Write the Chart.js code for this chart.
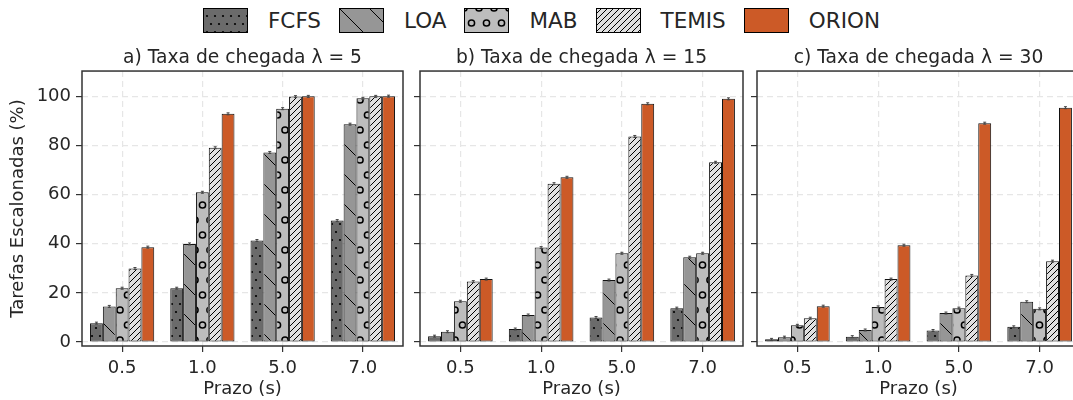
<!DOCTYPE html>
<html>
<head>
<meta charset="utf-8">
<script src="https://cdn.jsdelivr.net/npm/chart.js@4.4.0/dist/chart.umd.min.js"></script>
<style>
  body { margin: 0; width: 1073px; height: 400px; overflow: hidden; background: #fff; position: relative; font-family: 'DejaVu Sans', sans-serif; color: #262626; }
  #legend { position: absolute; top: 8px; left: 0; width: 1073px; height: 25px; display: flex; justify-content: center; align-items: center; padding-left: 10px; box-sizing: border-box; }
  .item { display: flex; align-items: center; margin-right: 18px; }
  .item:last-child { margin-right: 0; }
  .item canvas { margin-right: 20px; }
  .item span { font-size: 21.5px; line-height: 25px; }
  canvas.panel { position: absolute; top: 40px; }
</style>
</head>
<body>
<div id="legend"></div>
<canvas id="chartA" class="panel" width="410" height="360" style="left:0px"></canvas>
<canvas id="chartB" class="panel" width="340" height="360" style="left:410px"></canvas>
<canvas id="chartC" class="panel" width="333" height="360" style="left:747px"></canvas>
<script>
// deadlines (x categories) and methods
const deadlines = ['0.5', '1.0', '5.0', '7.0'];
const methods = ['FCFS', 'LOA', 'MAB', 'TEMIS', 'ORION'];

// arrival rate lambda = 5
const fcfs5  = [7.7, 21.9, 41.3, 49.4];
const loa5   = [14.5, 39.9, 77.1, 88.6];
const mab5   = [21.9, 60.9, 94.9, 99.1];
const temis5 = [29.9, 79.0, 99.8, 99.9];
const orion5 = [38.6, 92.8, 99.9, 100];

// arrival rate lambda = 15
const fcfs15  = [2.4, 5.3, 10.0, 13.8];
const loa15   = [4.2, 11.0, 25.2, 34.5];
const mab15   = [16.6, 38.4, 36.1, 36.1];
const temis15 = [24.6, 64.4, 83.6, 73.1];
const orion15 = [25.6, 67.0, 96.9, 98.9];

// arrival rate lambda = 30
const fcfs30  = [1.1, 2.2, 4.7, 6.2];
const loa30   = [2.0, 4.9, 11.8, 16.4];
const mab30   = [6.8, 14.3, 13.8, 13.5];
const temis30 = [9.7, 25.6, 27.1, 32.9];
const orion30 = [14.6, 39.4, 89.0, 95.3];

const yTicks = [0, 20, 40, 60, 80, 100];
const ERR = 0.4; // tiny error bars on top of each bar

const fills = ['#6b6b6b', '#969696', '#bdbdbd', '#e0e0e0', '#cc5a27'];
const hatches = ['dots', 'back', 'circles', 'fwd', 'none'];

const textColor = '#262626';
const frameColor = '#333333';
const gridColor = '#e6e6e6';
const FONT = "'DejaVu Sans', sans-serif";

// build hatch patterns like matplotlib's
function makeTile(kind, bg) {
    const c = document.createElement('canvas');
    let w = 8, h = 8;
    if (kind === 'dots') { w = 8; h = 16; }
    if (kind === 'circles') { w = 15; h = 30; }
    if (kind === 'back') { w = 30; h = 30; }
    if (kind === 'fwd') { w = 6; h = 6; }
    c.width = w; c.height = h;
    const g = c.getContext('2d');
    g.fillStyle = bg;
    g.fillRect(0, 0, w, h);
    g.strokeStyle = '#000';
    g.fillStyle = '#000';
    if (kind === 'dots') {
        const pts = [[0, 0], [w, 0], [0, h], [w, h], [w / 2, h / 2]];
        pts.forEach(p => { g.beginPath(); g.arc(p[0], p[1], 1.1, 0, Math.PI * 2); g.fill(); });
    } else if (kind === 'circles') {
        g.lineWidth = 1.5;
        const pts = [[0, 0], [w, 0], [0, h], [w, h], [w / 2, h / 2]];
        pts.forEach(p => { g.beginPath(); g.arc(p[0], p[1], 3.1, 0, Math.PI * 2); g.stroke(); });
    } else if (kind === 'back') {
        g.lineWidth = 1;
        g.beginPath();
        g.moveTo(-1, -1); g.lineTo(w + 1, h + 1);
        g.stroke();
    } else if (kind === 'fwd') {
        g.lineWidth = 1;
        g.beginPath();
        g.moveTo(-1, h + 1); g.lineTo(w + 1, -1);
        g.moveTo(-1, 1); g.lineTo(1, -1);
        g.moveTo(w - 1, h + 1); g.lineTo(w + 1, h - 1);
        g.stroke();
    }
    return c;
}

function makeFill(ctx, i) {
    if (hatches[i] === 'none') return fills[i];
    return ctx.createPattern(makeTile(hatches[i], fills[i]), 'repeat');
}

// legend
const legend = document.getElementById('legend');
methods.forEach((m, i) => {
    const item = document.createElement('div');
    item.className = 'item';
    const sw = document.createElement('canvas');
    sw.width = 45; sw.height = 25;
    const g = sw.getContext('2d');
    g.fillStyle = makeFill(g, i);
    g.fillRect(0, 0, 45, 25);
    g.strokeStyle = '#000';
    g.lineWidth = 1;
    g.strokeRect(0.5, 0.5, 44, 24);
    const label = document.createElement('span');
    label.textContent = m;
    item.appendChild(sw);
    item.appendChild(label);
    legend.appendChild(item);
});

const framePlugin = {
    id: 'frame',
    afterDatasetsDraw(chart) {
        const ctx = chart.ctx;
        const a = chart.chartArea;
        const y = chart.scales.y;
        // error bars
        ctx.save();
        ctx.strokeStyle = '#444';
        ctx.lineWidth = 1;
        chart.data.datasets.forEach((ds, di) => {
            const meta = chart.getDatasetMeta(di);
            meta.data.forEach((bar, j) => {
                const v = ds.data[j];
                const y1 = y.getPixelForValue(Math.min(v + ERR, 110));
                const y2 = y.getPixelForValue(v - ERR);
                ctx.beginPath();
                ctx.moveTo(bar.x, y1); ctx.lineTo(bar.x, y2);
                ctx.moveTo(bar.x - 1.5, y1); ctx.lineTo(bar.x + 1.5, y1);
                ctx.moveTo(bar.x - 1.5, y2); ctx.lineTo(bar.x + 1.5, y2);
                ctx.stroke();
            });
        });
        ctx.restore();
        // box around plot
        ctx.save();
        ctx.strokeStyle = frameColor;
        ctx.lineWidth = 1.5;
        ctx.strokeRect(a.left, a.top, a.right - a.left, a.bottom - a.top);
        ctx.restore();
    }
};

function makePanel(id, title, series, showY, padRight) {
    const ctx = document.getElementById(id).getContext('2d');
    const datasets = methods.map((m, i) => ({
        label: m,
        data: series[i],
        backgroundColor: makeFill(ctx, i),
        borderColor: '#111',
        borderWidth: 1,
        borderSkipped: false,
        categoryPercentage: 0.8,
        barPercentage: 1.0
    }));
    const gridOpts = {
        color: gridColor,
        lineWidth: 1.2,
        tickLength: 6,
        tickColor: frameColor,
        tickWidth: 1.2,
        tickBorderDash: []
    };
    return new Chart(ctx, {
        type: 'bar',
        data: { labels: deadlines, datasets: datasets },
        options: {
            responsive: false,
            animation: false,
            devicePixelRatio: 1,
            layout: { padding: { left: 0, right: padRight, top: 0, bottom: 0 } },
            plugins: {
                legend: { display: false },
                tooltip: { enabled: false },
                title: {
                    display: true,
                    text: title,
                    fullSize: false,
                    color: textColor,
                    font: { family: FONT, size: 18.7, weight: 'normal' },
                    padding: { top: 7, bottom: 1.6 }
                }
            },
            scales: {
                x: {
                    offset: true,
                    grid: Object.assign({ offset: false }, gridOpts),
                    border: { display: false, dash: [6, 4] },
                    ticks: { color: textColor, font: { family: FONT, size: 18 }, padding: 6 },
                    title: {
                        display: true,
                        text: 'Prazo (s)',
                        color: textColor,
                        font: { family: FONT, size: 18 },
                        padding: { top: 0, bottom: 0 }
                    },
                    afterFit(scale) { scale.height = 54; }
                },
                y: {
                    min: -1.6,
                    max: 110.2,
                    afterBuildTicks(scale) { scale.ticks = yTicks.map(v => ({ value: v })); },
                    grid: gridOpts,
                    border: { display: false, dash: [6, 4] },
                    ticks: { display: showY, color: textColor, font: { family: FONT, size: 18 }, padding: 5 },
                    title: {
                        display: showY,
                        text: 'Tarefas Escalonadas (%)',
                        color: textColor,
                        font: { family: FONT, size: 18 },
                        padding: { top: 8, bottom: 0 }
                    },
                    afterFit(scale) { scale.width = showY ? 82 : 10; }
                }
            }
        },
        plugins: [framePlugin]
    });
}

makePanel('chartA', 'a) Taxa de chegada λ = 5', [fcfs5, loa5, mab5, temis5, orion5], true, 7);
makePanel('chartB', 'b) Taxa de chegada λ = 15', [fcfs15, loa15, mab15, temis15, orion15], false, 7);
makePanel('chartC', 'c) Taxa de chegada λ = 30', [fcfs30, loa30, mab30, temis30, orion30], false, 0);
</script>
</body>
</html>
